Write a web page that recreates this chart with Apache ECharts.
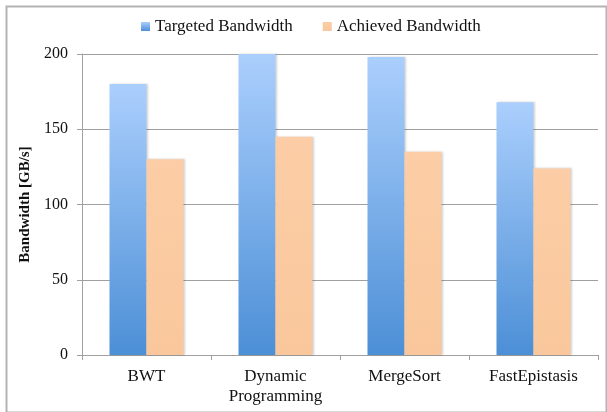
<!DOCTYPE html>
<html>
<head>
<meta charset="utf-8">
<script src="https://cdn.jsdelivr.net/npm/echarts@6/dist/echarts.min.js"></script>
<style>
  html, body { margin: 0; padding: 0; background: #fff; }
  #chart { width: 607px; height: 412px; }
</style>
</head>
<body>
<div id="chart"></div>
<script>
// Benchmarks and their bandwidth figures (GB/s)
const categories = ['BWT', 'Dynamic\nProgramming', 'MergeSort', 'FastEpistasis'];
const targetedBandwidth = [180, 200, 198, 168];
const achievedBandwidth = [130, 145, 135, 124];
const seriesNames = ['Targeted Bandwidth', 'Achieved Bandwidth'];
const yTicks = { min: 0, max: 200, interval: 50 };

const FONT = "'Liberation Serif', 'Times New Roman', serif";

const chart = echarts.init(document.getElementById('chart'), null, { renderer: 'canvas' });

const blueFill = new echarts.graphic.LinearGradient(0, 0, 0, 1, [
  { offset: 0, color: '#abcffd' },
  { offset: 1, color: '#4c8fd6' }
]);
const peachFill = new echarts.graphic.LinearGradient(0, 0, 0, 1, [
  { offset: 0, color: '#fccda6' },
  { offset: 1, color: '#f9c79b' }
]);

const barShadow = {
  shadowColor: 'rgba(0,0,0,0.18)',
  shadowBlur: 2,
  shadowOffsetX: 1,
  shadowOffsetY: 0
};

chart.setOption({
  animation: false,
  backgroundColor: '#ffffff',
  textStyle: { fontFamily: FONT, color: '#111' },
  graphic: [{
    type: 'rect',
    left: 4, top: 4,
    shape: { width: 600, height: 406 },
    style: { fill: 'none', stroke: '#b4b4b4', lineWidth: 2 },
    silent: true,
    z: -1
  }],
  legend: {
    left: 141,
    top: 18,
    padding: 0,
    itemWidth: 9,
    itemHeight: 9,
    itemGap: 30,
    icon: 'rect',
    textStyle: { fontFamily: FONT, fontSize: 17, color: '#111' },
    data: seriesNames
  },
  grid: { left: 82, right: 9, top: 54, bottom: 57 },
  xAxis: {
    type: 'category',
    data: categories,
    axisLine: { lineStyle: { color: '#a0a0a0', width: 1 } },
    axisTick: { show: true, length: 5, lineStyle: { color: '#a0a0a0' } },
    axisLabel: {
      fontFamily: FONT, fontSize: 17, color: '#111',
      margin: 12, lineHeight: 20, interval: 0
    }
  },
  yAxis: {
    type: 'value',
    min: yTicks.min,
    max: yTicks.max,
    interval: yTicks.interval,
    name: 'Bandwidth [GB/s]',
    nameLocation: 'middle',
    nameGap: 47,
    nameTextStyle: { fontFamily: FONT, fontSize: 15, fontWeight: 'bold', color: '#111' },
    axisLine: { show: true, lineStyle: { color: '#a0a0a0', width: 1 } },
    axisTick: { show: true, length: 5, lineStyle: { color: '#a0a0a0' } },
    splitLine: { lineStyle: { color: '#a0a0a0', width: 1 } },
    axisLabel: { fontFamily: FONT, fontSize: 16, color: '#111', margin: 14 }
  },
  series: [
    {
      name: seriesNames[0],
      type: 'bar',
      data: targetedBandwidth,
      barWidth: 37,
      barGap: '0%',
      itemStyle: Object.assign({ color: blueFill }, barShadow)
    },
    {
      name: seriesNames[1],
      type: 'bar',
      data: achievedBandwidth,
      barWidth: 37,
      barGap: '0%',
      itemStyle: Object.assign({ color: peachFill }, barShadow)
    }
  ]
});
</script>
</body>
</html>
